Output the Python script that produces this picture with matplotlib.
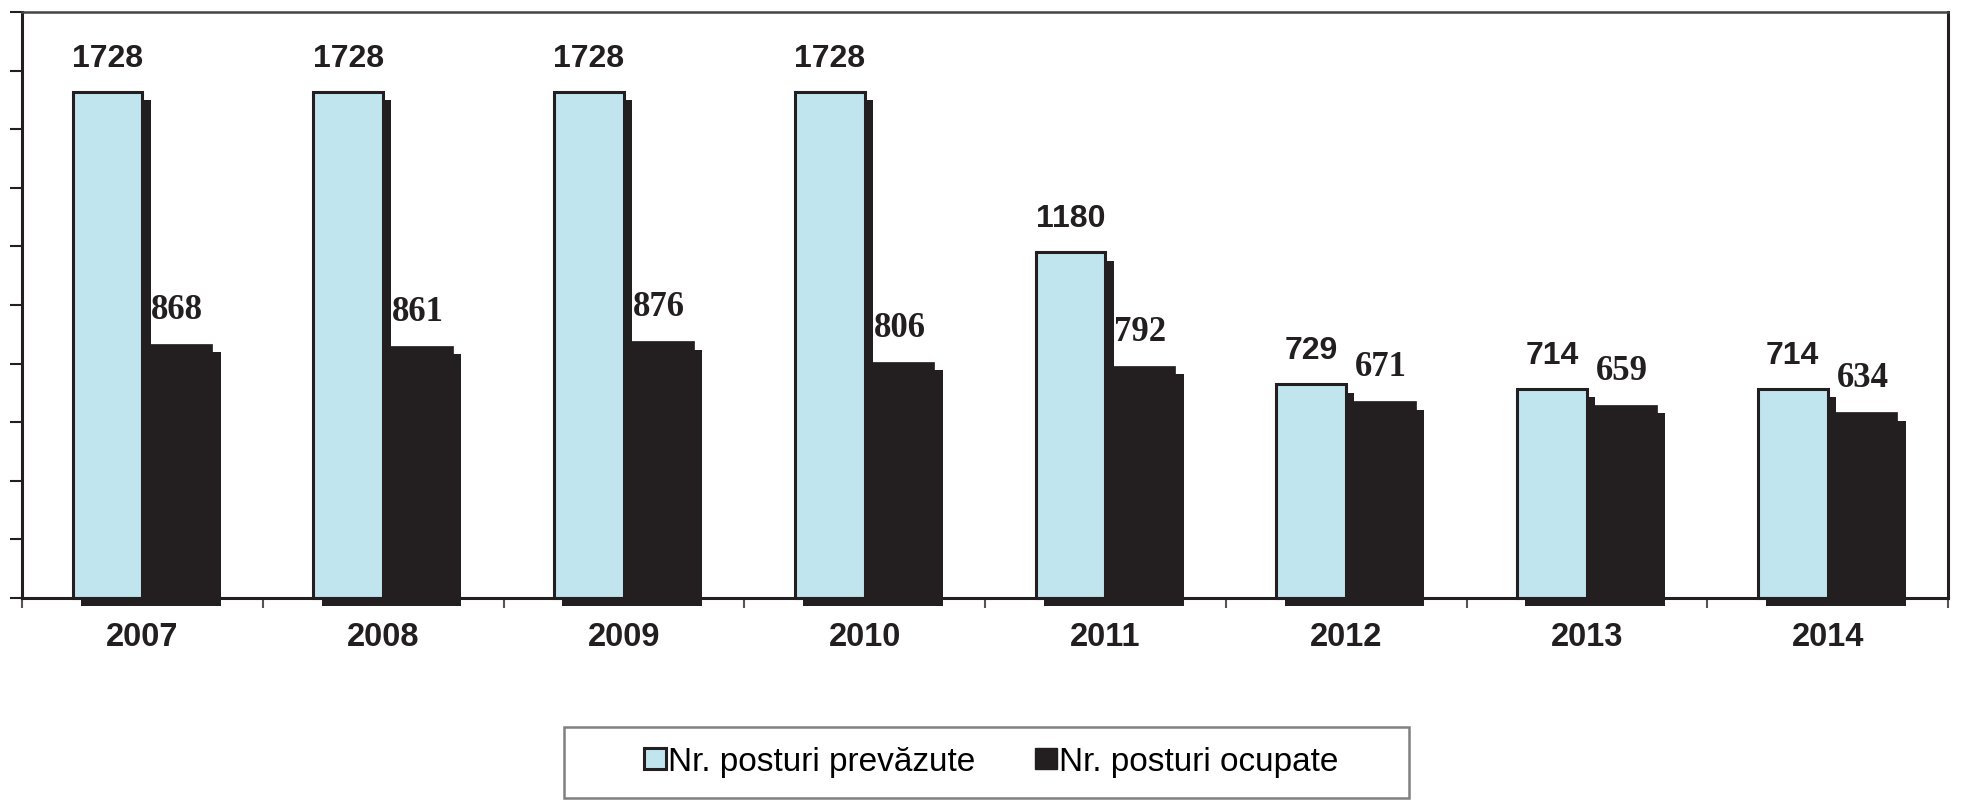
import matplotlib
matplotlib.use('Agg')
import matplotlib.pyplot as plt
import matplotlib.patheffects as pe
from matplotlib.patches import Patch, Rectangle
import numpy as np

years = ['2007', '2008', '2009', '2010', '2011', '2012', '2013', '2014']
prevazute = [1728, 1728, 1728, 1728, 1180, 729, 714, 714]
ocupate = [868, 861, 876, 806, 792, 671, 659, 634]
series_names = ['Nr. posturi prevăzute', 'Nr. posturi ocupate']

BLUE = '#c0e5ef'
DARK = '#231f20'
W = 0.29

fig = plt.figure(figsize=(19.77, 8.07), dpi=100)
ax = fig.add_axes([22/1977, 1 - 598/807, 1926/1977, 586/807])

x = np.arange(len(years))
shadow = [pe.SimplePatchShadow(offset=(6, -6), shadow_rgbFace=DARK, alpha=1.0), pe.Normal()]

b1 = ax.bar(x - W/2, prevazute, W, color=BLUE, edgecolor=DARK, linewidth=2.2,
            path_effects=shadow, clip_on=False, zorder=2)
b2 = ax.bar(x + W/2, ocupate, W, color=DARK, edgecolor=DARK, linewidth=0.5,
            path_effects=shadow, clip_on=False, zorder=2)

# value labels
for xi, v in zip(x, prevazute):
    ax.annotate(str(v), xy=(xi - W/2, v), xytext=(0, 18), textcoords='offset points',
                ha='center', va='baseline', fontsize=23, fontweight='bold',
                family='Liberation Sans', color=DARK)
for xi, v in zip(x, ocupate):
    ax.annotate(str(v), xy=(xi + W/2, v), xytext=(0, 18), textcoords='offset points',
                ha='center', va='baseline', fontsize=25, fontweight='bold',
                family='Liberation Serif', color=DARK)

ax.set_xlim(-0.5, len(years) - 0.5)
ax.set_ylim(0, 2000)

ax.set_yticks(np.arange(0, 2001, 200))
ax.set_yticklabels([])
ax.tick_params(axis='y', direction='out', length=9, width=1.5, color=DARK)

ax.set_xticks(x)
ax.set_xticklabels(years, fontsize=23.5, fontweight='bold', family='Liberation Sans', color=DARK)
ax.tick_params(axis='x', which='major', length=0, pad=17)
ax.set_xticks(np.arange(-0.5, len(years), 1.0), minor=True)
ax.tick_params(axis='x', which='minor', direction='out', length=7, width=1.5, color='#555555')

for s in ['left', 'bottom', 'right']:
    ax.spines[s].set_linewidth(2.2)
    ax.spines[s].set_color(DARK)
ax.spines['top'].set_linewidth(1.8)
ax.spines['top'].set_color('#444444')

# legend
handles = [Patch(facecolor=BLUE, edgecolor=DARK, linewidth=2.2),
           Patch(facecolor=DARK, edgecolor=DARK)]
fig.legend(handles, series_names, loc='center', bbox_to_anchor=(991/1977, 1 - 762/807),
           ncol=2, frameon=False, prop={'family': 'Liberation Sans', 'size': 24},
           handlelength=0.66, handleheight=0.6, handletextpad=0.05, columnspacing=1.8)
fig.patches.append(Rectangle((564/1977, 1 - 798/807), 845/1977, 71/807,
                             transform=fig.transFigure, fill=False,
                             edgecolor='#808080', linewidth=1.8))

fig.savefig('out.png', dpi=100)
